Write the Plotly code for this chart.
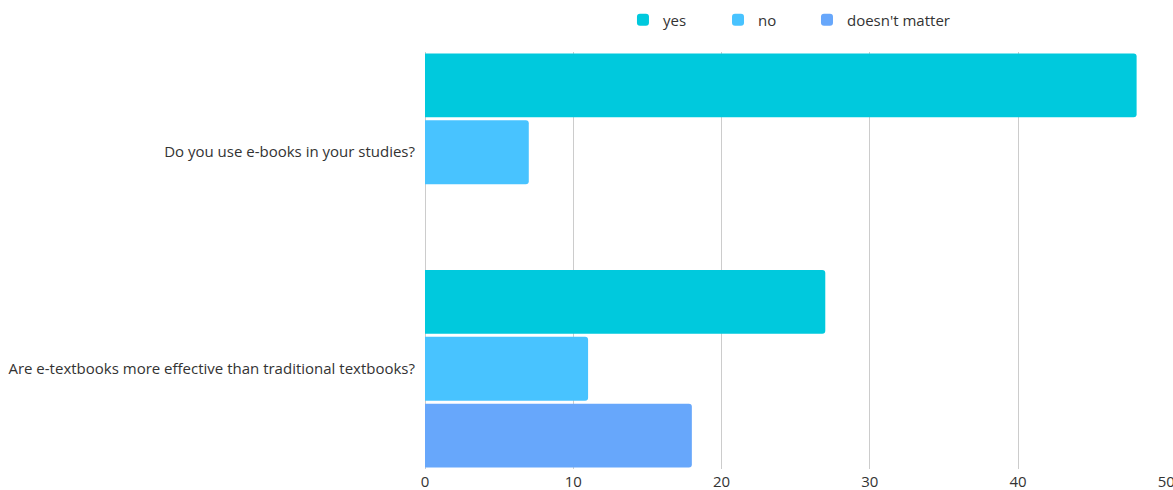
import plotly.graph_objects as go

categories = ["Do you use e-books in your studies?",
              "Are e-textbooks more effective than traditional textbooks?"]
series_names = ["yes", "no", "doesn't matter"]
yes_vals = [48, 27]
no_vals = [7, 11]
dm_vals = [0, 18]
colors = ["#00C9DD", "#48C3FF", "#67A7FB"]
x_ticks = [0, 10, 20, 30, 40, 50]

legend_ids = ["legend", "legend2", "legend3"]
legend_x = [0.2668, 0.3949, 0.5148]

fig = go.Figure()
for name, vals, c, lg in zip(series_names, [yes_vals, no_vals, dm_vals], colors, legend_ids):
    fig.add_trace(go.Bar(y=categories, x=vals, name=name, orientation="h", legend=lg,
                         showlegend=True,
                         marker=dict(color=c, line=dict(width=0))))

legend_style = dict(orientation="h", xanchor="left", y=1.0767, yanchor="middle",
                    font=dict(size=15, color="#333333"), itemwidth=30,
                    bgcolor="rgba(0,0,0,0)")

fig.update_layout(
    width=1173, height=490,
    showlegend=True,
    margin=dict(l=425, r=6, t=52, b=21, autoexpand=False),
    barmode="group", bargap=0.074, bargroupgap=0.045,
    barcornerradius=3,
    plot_bgcolor="white", paper_bgcolor="white",
    font=dict(family="Open Sans", size=15, color="#333333"),
    legend=dict(x=legend_x[0], **legend_style),
    legend2=dict(x=legend_x[1], **legend_style),
    legend3=dict(x=legend_x[2], **legend_style),
    xaxis=dict(range=[0, 50.05], tickvals=x_ticks, showgrid=True, gridcolor="#CCCCCC",
               gridwidth=1, zeroline=True, zerolinecolor="#CCCCCC", zerolinewidth=1,
               showline=False, ticks="", automargin=False, ticklabelstandoff=2,
               ticklabeloverflow="allow",
               tickfont=dict(size=15, color="#333333")),
    yaxis=dict(range=[1.463, -0.463], showgrid=False, ticks="", showline=False,
               automargin=False, ticklabelstandoff=9,
               tickfont=dict(size=15, color="#333333")),
)
fig.write_html("out.html", config={"displayModeBar": False},
               post_script="document.body.style.margin='0';")
